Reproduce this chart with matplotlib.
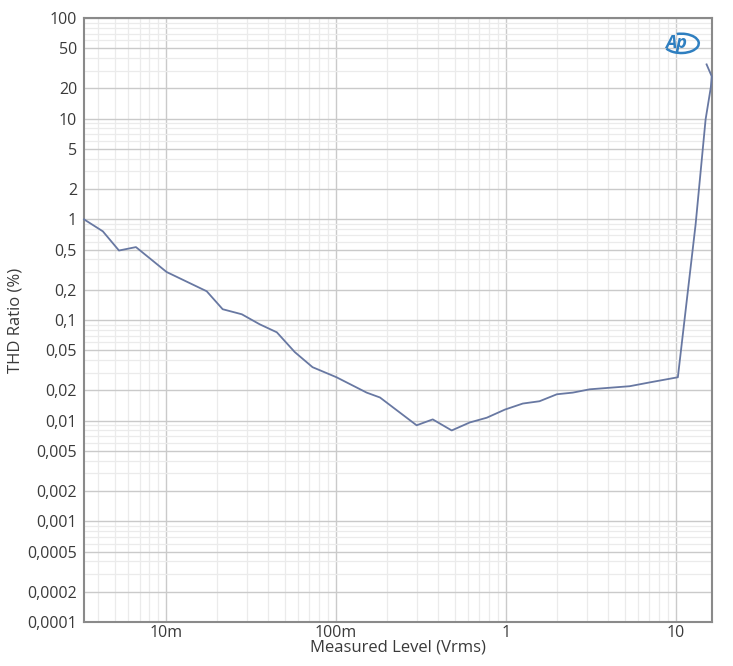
import matplotlib
matplotlib.use("Agg")
import matplotlib.pyplot as plt
from matplotlib.patches import Arc
from matplotlib.ticker import FixedLocator, NullFormatter

level_vrms = [0.0033, 0.00426, 0.0053, 0.00667, 0.0101, 0.0174, 0.0216, 0.028,
              0.0357, 0.045, 0.0574, 0.073, 0.101, 0.152, 0.182, 0.299, 0.372,
              0.481, 0.614, 0.773, 0.99, 1.26, 1.58, 2.0, 2.48, 3.12, 5.36,
              7.03, 10.3, 13.1, 15.0, 16.1, 16.3, 15.2]
thd_pct = [1.0, 0.76, 0.49, 0.53, 0.30, 0.193, 0.128, 0.114, 0.0906, 0.0755,
           0.048, 0.034, 0.027, 0.019, 0.017, 0.0090, 0.0103, 0.0080, 0.0096,
           0.0107, 0.0129, 0.0148, 0.0156, 0.0183, 0.019, 0.0205, 0.022, 0.024,
           0.027, 0.89, 9.84, 20.5, 26.3, 34.6]

x_ticks = [0.01, 0.1, 1, 10]
x_labels = ["10m", "100m", "1", "10"]
y_ticks = [1e-4, 2e-4, 5e-4, 1e-3, 2e-3, 5e-3, 0.01, 0.02, 0.05, 0.1, 0.2, 0.5,
           1, 2, 5, 10, 20, 50, 100]
y_labels = ["0,0001", "0,0002", "0,0005", "0,001", "0,002", "0,005", "0,01",
            "0,02", "0,05", "0,1", "0,2", "0,5", "1", "2", "5", "10", "20", "50", "100"]

plt.rcParams['font.family'] = ['Open Sans', 'DejaVu Sans']
txt_col = "#3a3a3a"

fig = plt.figure(figsize=(7.33, 6.66), dpi=100)
ax = fig.add_axes([0.1146, 0.066, 0.8567, 0.907])

ax.plot(level_vrms, thd_pct, color="#6878a2", lw=1.3, clip_on=False, zorder=3)

ax.set_xscale("log")
ax.set_yscale("log")
ax.set_xlim(0.0033, 16.35)
ax.set_ylim(1e-4, 100)

# ticks and grid
ax.xaxis.set_major_locator(FixedLocator(x_ticks))
ax.set_xticklabels(x_labels)
x_minor = [m * 10.0 ** e for e in range(-3, 2) for m in range(2, 10)]
ax.xaxis.set_minor_locator(FixedLocator(x_minor))
ax.xaxis.set_minor_formatter(NullFormatter())

ax.yaxis.set_major_locator(FixedLocator(y_ticks))
ax.set_yticklabels(y_labels)
y_minor = [m * 10.0 ** e for e in range(-4, 2) for m in (3, 4, 6, 7, 8, 9)]
ax.yaxis.set_minor_locator(FixedLocator(y_minor))
ax.yaxis.set_minor_formatter(NullFormatter())

ax.grid(which="major", color="#cacaca", lw=1.0)
ax.grid(which="minor", color="#ebebeb", lw=0.9)
ax.set_axisbelow(True)

ax.tick_params(which="both", length=0, labelsize=11.5, labelcolor=txt_col)
ax.tick_params(axis="x", pad=2)
ax.tick_params(axis="y", pad=5)
for sp in ax.spines.values():
    sp.set_color("#8a8a8a")
    sp.set_linewidth(1.5)

ax.set_xlabel("Measured Level (Vrms)", fontsize=12, color=txt_col, labelpad=-1)
ax.set_ylabel("THD Ratio (%)", fontsize=12, color=txt_col, labelpad=3)

# AP logo
ax.add_patch(Arc((0.951, 0.958), 0.056, 0.032, theta1=-160, theta2=115,
                 transform=ax.transAxes, color="#2f7fc0", lw=1.8, zorder=4))
ax.text(0.943, 0.958, "Ap", transform=ax.transAxes, fontsize=13, fontweight="bold",
        fontstyle="italic", color="#2f7fc0", ha="center", va="center", zorder=4)

fig.savefig("out.png", dpi=100)
